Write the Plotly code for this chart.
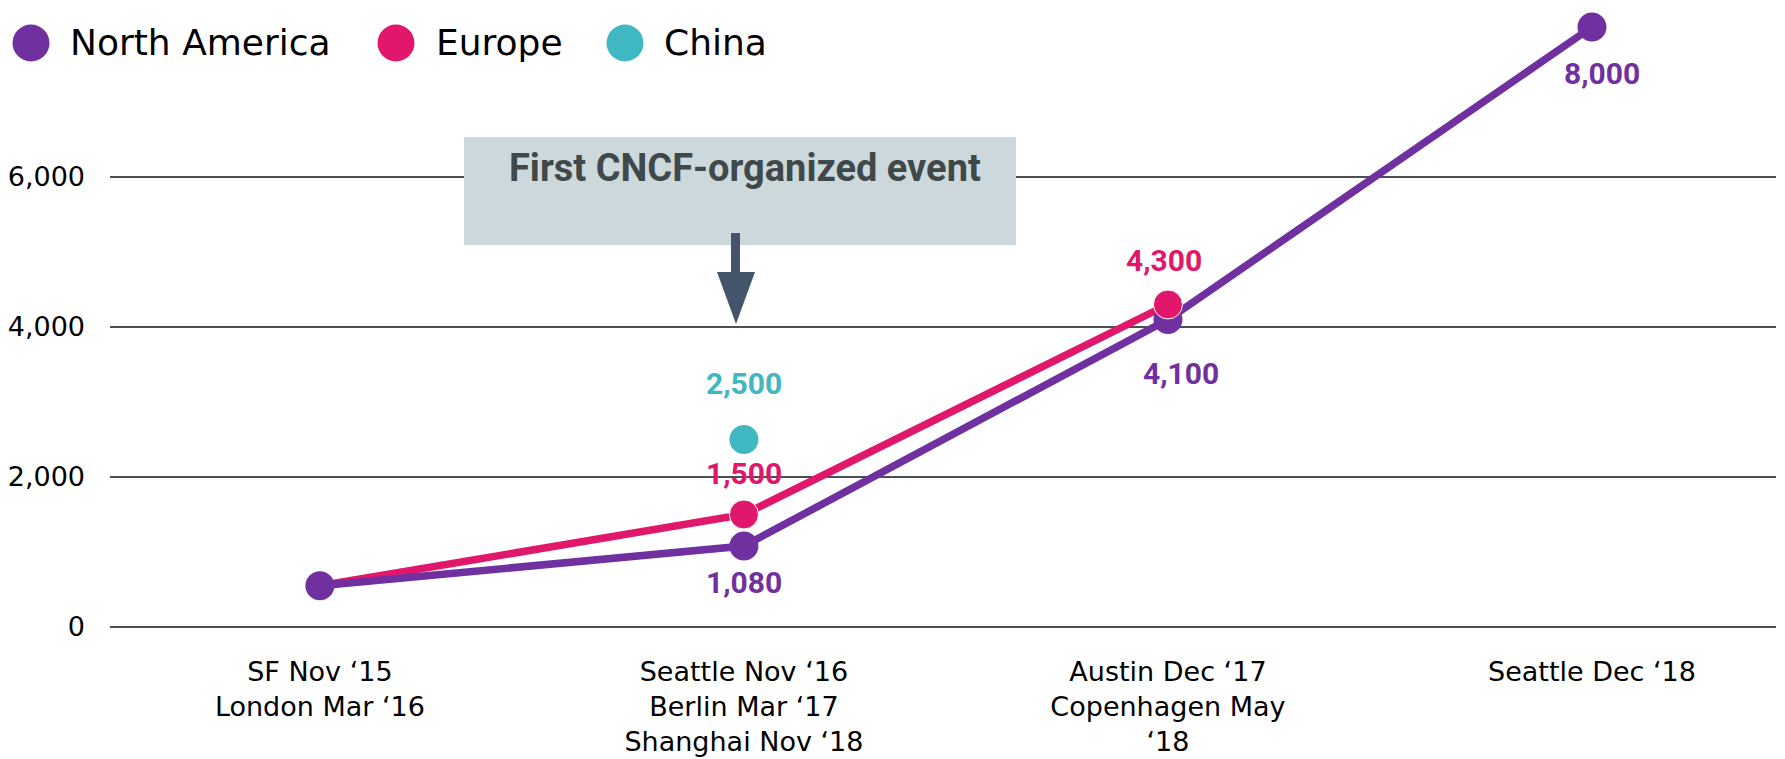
import plotly.graph_objects as go

# ---- data -------------------------------------------------------------
categories = [
    "SF Nov ‘15<br>London Mar ‘16",
    "Seattle Nov ‘16<br>Berlin Mar ‘17<br>Shanghai Nov ‘18",
    "Austin Dec ‘17<br>Copenhagen May<br>‘18",
    "Seattle Dec ‘18",
]
north_america = [550, 1080, 4100, 8000]
europe = [550, 1500, 4300, None]
china = [None, 2500, None, None]

y_ticks = [0, 2000, 4000, 6000]

# which points carry a value label
na_labelled = [1, 2, 3]
eu_labelled = [1, 2]
cn_labelled = [1]

# ---- styling ----------------------------------------------------------
PURPLE = "#7030a0"
PINK = "#e0176a"
TEAL = "#3fb8c1"
GRID = "#4a4f54"
ARROW = "#44546a"
BOX = "#cdd8dd"

W, H = 1785, 759
ML, MR, MT, MB = 110, 9, 0, 102
PW, PH = W - ML - MR, H - MT - MB

AXIS_FONT = "'DejaVu Sans', sans-serif"
LABEL_FONT = "Roboto, 'Open Sans', sans-serif"


def px(xp):
    return (xp - ML) / PW


def py(yp):
    return (H - MB - yp) / PH


x = list(range(len(categories)))

fig = go.Figure()

# Europe line sits below the North America line
fig.add_trace(go.Scatter(
    x=x, y=europe, mode="lines", name="Europe",
    line=dict(color=PINK, width=7.5), showlegend=False, cliponaxis=False,
))
fig.add_trace(go.Scatter(
    x=x, y=north_america, mode="lines+markers", name="North America",
    line=dict(color=PURPLE, width=7.5),
    marker=dict(color=PURPLE, size=29, opacity=1), showlegend=False, cliponaxis=False,
))
# Europe markers drawn on top (the shared starting point stays purple)
fig.add_trace(go.Scatter(
    x=x, y=europe, mode="markers", name="Europe",
    marker=dict(color=PINK, size=[0, 29, 29, 0], opacity=1),
    showlegend=False, cliponaxis=False,
))
fig.add_trace(go.Scatter(
    x=x, y=china, mode="markers", name="China",
    marker=dict(color=TEAL, size=29, opacity=1), showlegend=False, cliponaxis=False,
))

# value labels
annotations = []
label_shift = {
    ("na", 1): (0, -36), ("na", 2): (13, -54), ("na", 3): (10, -46),
    ("eu", 1): (0, 41), ("eu", 2): (-4, 44),
    ("cn", 1): (0, 56),
}
for key, series, idxs, color in [
    ("na", north_america, na_labelled, PURPLE),
    ("eu", europe, eu_labelled, PINK),
    ("cn", china, cn_labelled, TEAL),
]:
    for i in idxs:
        dx, dy = label_shift[(key, i)]
        annotations.append(dict(
            x=x[i], y=series[i], xref="x", yref="y",
            xanchor="center", yanchor="middle",
            text=f"{series[i]:,}", showarrow=False,
            xshift=dx, yshift=dy,
            font=dict(family=LABEL_FONT, size=30, color=color, weight="bold"),
        ))

# callout text
annotations.append(dict(
    x=px(745), y=py(168), xref="paper", yref="paper",
    xanchor="center", yanchor="middle",
    text="First CNCF-organized event", showarrow=False,
    font=dict(family=LABEL_FONT, size=38, color="#404849", weight="bold"),
))

# custom legend
legend_items = [("North America", PURPLE, 31, 68), ("Europe", PINK, 396, 434), ("China", TEAL, 625, 662)]
shapes = []
for name, color, cx, tx in legend_items:
    r = 18.5
    shapes.append(dict(
        type="circle", xref="paper", yref="paper",
        x0=px(cx - r), x1=px(cx + r), y0=py(43 + r), y1=py(43 - r),
        fillcolor=color, line=dict(width=0), layer="above",
    ))
    annotations.append(dict(
        x=px(tx), y=py(42), xref="paper", yref="paper",
        xanchor="left", yanchor="middle", text=name, showarrow=False,
        font=dict(family=AXIS_FONT, size=36, color="#000000"),
    ))

# callout box
shapes.append(dict(
    type="rect", xref="paper", yref="paper",
    x0=px(464), x1=px(1016), y0=py(245), y1=py(137),
    fillcolor=BOX, line=dict(width=0), layer="above",
))
# arrow: shaft + head
shapes.append(dict(
    type="rect", xref="paper", yref="paper",
    x0=px(731), x1=px(740), y0=py(273), y1=py(233),
    fillcolor=ARROW, line=dict(width=0), layer="above",
))
shapes.append(dict(
    type="path", xref="paper", yref="paper",
    path=f"M {px(717)},{py(272)} L {px(755)},{py(272)} L {px(736)},{py(324)} Z",
    fillcolor=ARROW, line=dict(width=0), layer="above",
))

y_top = (H - MB - MT) / 75 * 1000 - 400

fig.update_layout(
    width=W, height=H,
    margin=dict(l=ML, r=MR, t=MT, b=MB),
    paper_bgcolor="white", plot_bgcolor="white",
    showlegend=False,
    annotations=annotations,
    shapes=shapes,
    xaxis=dict(
        range=[-0.495, 3.434], automargin=False,
        tickvals=x, ticktext=categories,
        showgrid=False, zeroline=False, showline=False,
        ticks="", ticklabelstandoff=-4,
        tickfont=dict(family=AXIS_FONT, size=27, color="#000000"),
    ),
    yaxis=dict(
        range=[-400, y_top], automargin=False,
        tickvals=y_ticks, tickformat=",",
        showgrid=True, gridcolor=GRID, gridwidth=2,
        zeroline=False, showline=False,
        ticks="", ticklabelstandoff=24,
        tickfont=dict(family=AXIS_FONT, size=27, color="#000000"),
    ),
)

fig.write_html("out.html")
